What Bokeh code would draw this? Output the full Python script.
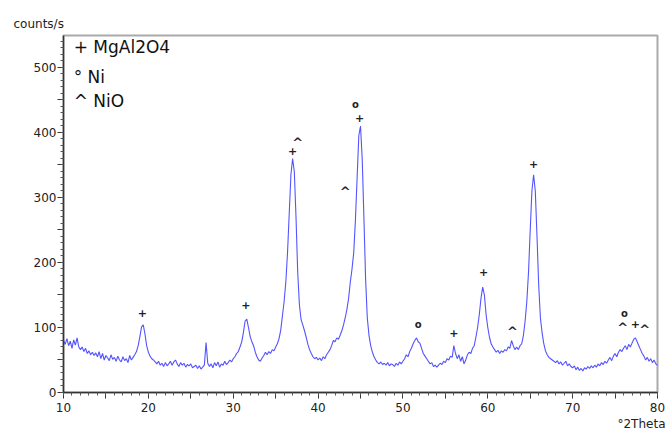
import numpy as np
from bokeh.plotting import figure
from bokeh.models import ColumnDataSource, FixedTicker, Range1d, Label, Title
from bokeh.core.properties import value
from bokeh.embed import file_html
from bokeh.resources import INLINE

# ---- data ----
theta_start = 10.0
theta_step = 0.2
counts = [
    80, 74, 83, 72, 79, 68, 81, 73, 84, 70,        # 10.0
    66, 70, 63, 68, 60, 64, 58, 62, 57, 61,        # 12.0
    55, 63, 52, 60, 50, 57, 53, 49, 58, 51,        # 14.0
    54, 48, 56, 50, 47, 55, 49, 52, 46, 57,        # 16.0
    50, 54, 58, 63, 72, 86, 101, 104, 90, 72,      # 18.0
    62, 56, 52, 50, 47, 44, 48, 42, 45, 40,        # 20.0
    46, 41, 44, 48, 42, 47, 50, 44, 40, 46,        # 22.0
    42, 45, 39, 43, 41, 44, 38, 40, 42, 37,        # 24.0
    41, 36, 39, 42, 77, 45, 40, 44, 38, 46,        # 26.0
    41, 47, 39, 44, 42, 48, 43, 46, 50, 47,        # 28.0
    52, 55, 60, 63, 70, 78, 92, 110, 113, 100,     # 30.0
    86, 78, 72, 62, 55, 50, 48, 53, 57, 62,        # 32.0
    58, 63, 60, 66, 64, 70, 75, 83, 96, 118,       # 34.0
    140, 170, 215, 275, 335, 360, 340, 270, 185, 135,  # 36.0
    112, 104, 95, 85, 74, 66, 60, 55, 52, 54,      # 38.0
    50, 53, 49, 55, 52, 58, 62, 66, 72, 80,        # 40.0
    78, 84, 82, 88, 95, 104, 115, 128, 145, 170,   # 42.0
    190, 215, 265, 330, 395, 410, 360, 270, 175, 115,  # 44.0
    88, 72, 62, 55, 50, 46, 44, 47, 43, 45,        # 46.0
    42, 46, 41, 44, 43, 40, 45, 42, 47, 44,        # 48.0
    48, 52, 58, 55, 63, 68, 75, 80, 84, 78,        # 50.0
    76, 68, 60, 56, 52, 48, 44, 46, 40, 42,        # 52.0
    39, 42, 45, 43, 48, 46, 52, 50, 56, 54,        # 54.0
    72, 60, 52, 58, 48, 55, 44, 50, 58, 62,        # 56.0
    60, 68, 72, 85, 100, 120, 145, 162, 150, 120,  # 58.0
    100, 85, 75, 70, 66, 62, 65, 60, 64, 62,       # 60.0
    66, 64, 70, 68, 80, 72, 66, 70, 66, 72,        # 62.0
    75, 88, 110, 140, 185, 250, 310, 335, 310, 240,  # 64.0
    165, 115, 92, 75, 64, 58, 54, 52, 50, 48,      # 66.0
    46, 49, 44, 47, 42, 45, 48, 41, 44, 40,        # 68.0
    38, 41, 35, 39, 34, 37, 33, 38, 36, 40,        # 70.0
    37, 41, 38, 42, 39, 44, 41, 46, 43, 48,        # 72.0
    45, 50, 54, 49, 56, 60, 55, 62, 66, 63,        # 74.0
    68, 72, 66, 74, 70, 76, 82, 84, 78, 72,        # 76.0
    66, 60, 56, 50, 54, 48, 52, 46, 50, 44,        # 78.0
    42,                                            # 80.0
]
two_theta = [round(theta_start + i * theta_step, 1) for i in range(len(counts))]

# phase markers
marker_theta = [19.3, 31.5, 37.0, 37.6, 43.2, 44.4, 44.9, 51.8, 56.0, 59.5, 62.9, 65.4, 75.9, 76.1, 77.4, 78.5]
marker_counts = [123, 135, 372, 385, 309, 443, 423, 104, 91, 185, 94, 351, 100, 122, 106, 97]
marker_symbol = ["+", "+", "+", "^", "^", "o", "+", "o", "+", "+", "^", "+", "^", "o", "+", "^"]

legend_labels = ["+  MgAl2O4", "° Ni", "^ NiO"]
legend_counts = [531, 485, 448]

x_ticks = list(range(10, 81, 5))
y_ticks = list(range(0, 551, 50))

# ---- figure ----
p = figure(frame_width=594, frame_height=357, output_backend="svg", toolbar_location=None,
           x_range=Range1d(10, 80), y_range=Range1d(0, 549.2),
           min_border_left=63, min_border_right=9, min_border_top=35, min_border_bottom=40)
p.background_fill_color = "white"
p.border_fill_color = "white"
p.outline_line_color = "#aaaaaa"
p.outline_line_width = 2
p.xgrid.visible = False
p.ygrid.visible = False

src = ColumnDataSource(dict(x=two_theta, y=counts))
p.line("x", "y", source=src, line_color="#4040ff", line_width=1.1, line_alpha=0.9)

size_for = {"+": "11px", "o": "10px", "^": "13px"}
msrc = ColumnDataSource(dict(x=marker_theta, y=marker_counts, t=marker_symbol,
                             s=[size_for[m] for m in marker_symbol]))
p.text("x", "y", text="t", source=msrc, text_font=value("DejaVu Sans"), text_font_size="s",
       text_font_style="bold", text_align="center", text_baseline="middle", text_color="#222222")

for lab, yc in zip(legend_labels, legend_counts):
    p.add_layout(Label(x=11.2, y=yc, text=lab, text_font="DejaVu Sans", text_font_size="17px",
                       text_baseline="middle", text_color="#111111"))

top_title = Title(text="counts/s", align="left", offset=-50, text_font="DejaVu Sans",
                  text_font_size="12px", text_font_style="normal", text_color="#222222",
                  standoff=10)
p.add_layout(top_title, "above")

bottom_title = Title(text="°2Theta", align="right", offset=-8, text_font="DejaVu Sans",
                     text_font_size="12px", text_font_style="normal", text_color="#222222",
                     standoff=0)
p.add_layout(bottom_title, "below")

for ax, ticks, minor in ((p.xaxis[0], x_ticks, list(range(10, 81, 1))),
                         (p.yaxis[0], y_ticks, list(range(0, 551, 10)))):
    ax.ticker = FixedTicker(ticks=ticks, minor_ticks=minor)
    ax.axis_line_color = "#333333"
    ax.axis_line_width = 1.5
    ax.major_tick_line_color = "#333333"
    ax.minor_tick_line_color = "#555555"
    ax.major_tick_in = 0
    ax.major_tick_out = 6
    ax.minor_tick_in = 0
    ax.minor_tick_out = 3
    ax.major_label_text_font = "DejaVu Sans"
    ax.major_label_text_font_size = "12px"
    ax.major_label_text_color = "#222222"

p.xaxis.major_label_overrides = {t: "" for t in x_ticks if t % 10 != 0}
p.yaxis.major_label_overrides = {t: "" for t in y_ticks if t % 100 != 0}
p.xaxis.major_label_standoff = 4
p.yaxis.major_label_standoff = 1

open("out.html", "w").write(file_html(p, INLINE))
